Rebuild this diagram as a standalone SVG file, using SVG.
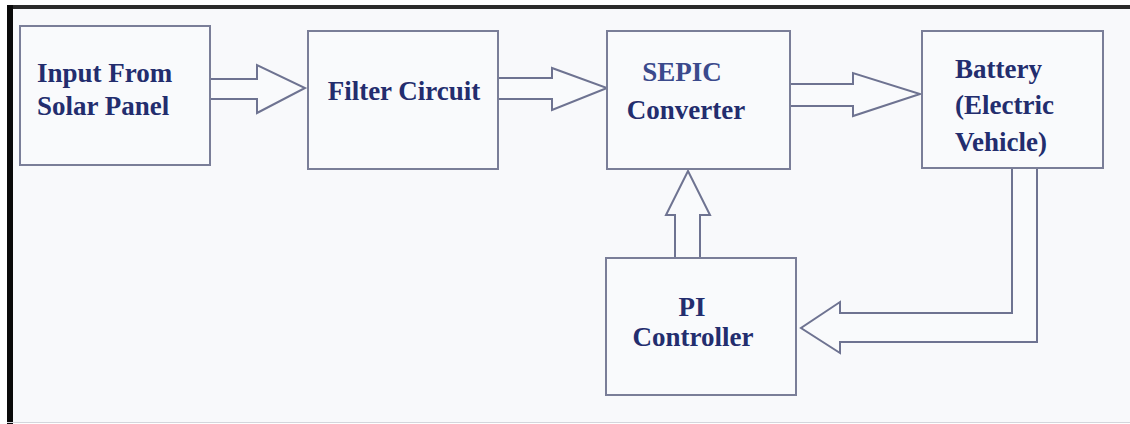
<svg xmlns="http://www.w3.org/2000/svg" width="1130" height="424" viewBox="0 0 1130 424">
<defs>
<style>
.box{fill:#f9fafc;stroke:#7a7e98;stroke-width:2}
.t{font-family:"Liberation Serif","Times New Roman",serif;font-weight:bold;font-size:27px;fill:#232d6e}
.arr{fill:#f9fafc;stroke:#6e7391;stroke-width:2;stroke-linejoin:miter}
</style>
</defs>
<rect x="0" y="0" width="1130" height="424" fill="#ffffff"/>
<rect x="10" y="7" width="1120" height="415" fill="#f8f9fb"/>
<rect x="7" y="5" width="1123" height="4" fill="#2a2a2a"/>
<rect x="7" y="5" width="6" height="419" fill="#0a0a0a"/>
<line x1="7" y1="422.5" x2="1130" y2="422.5" stroke="#d4d6dc" stroke-width="1"/>

<g id="connectors">
<polygon class="arr" points="210,79 257,79 257,65 305,88 257,113 257,99 210,99"/>
<polygon class="arr" points="498,78 552,78 552,68 607,88 552,110 552,99 498,99"/>
<polygon class="arr" points="790,84 853,84 853,73 920,94 853,116 853,106 790,106"/>
<polygon class="arr" points="675,258 675,215 666,215 688,171 710,215 700,215 700,258"/>
<polygon class="arr" points="1012,168 1012,313 840,313 840,302 801,328 840,353 840,342 1037,342 1037,168"/>
</g>

<g id="solar">
<rect class="box" x="20" y="26" width="190" height="139"/>
<text class="t" x="37" y="82">Input From</text>
<text class="t" x="37" y="115">Solar Panel</text>
</g>
<g id="filter">
<rect class="box" x="308" y="31" width="190" height="138"/>
<text class="t" x="404" y="100" text-anchor="middle">Filter Circuit</text>
</g>
<g id="sepic">
<rect class="box" x="607" y="31" width="183" height="138"/>
<text class="t" x="682" y="81" text-anchor="middle" style="fill:#3b4a8c">SEPIC</text>
<text class="t" x="686" y="119" text-anchor="middle">Converter</text>
</g>
<g id="battery">
<rect class="box" x="922" y="31" width="181" height="137"/>
<text class="t" x="955" y="78">Battery</text>
<text class="t" x="955" y="114">(Electric</text>
<text class="t" x="955" y="151">Vehicle)</text>
</g>
<g id="pi">
<rect class="box" x="606" y="258" width="190" height="137"/>
<text class="t" x="692" y="316" text-anchor="middle">PI</text>
<text class="t" x="693" y="346" text-anchor="middle">Controller</text>
</g>
</svg>
